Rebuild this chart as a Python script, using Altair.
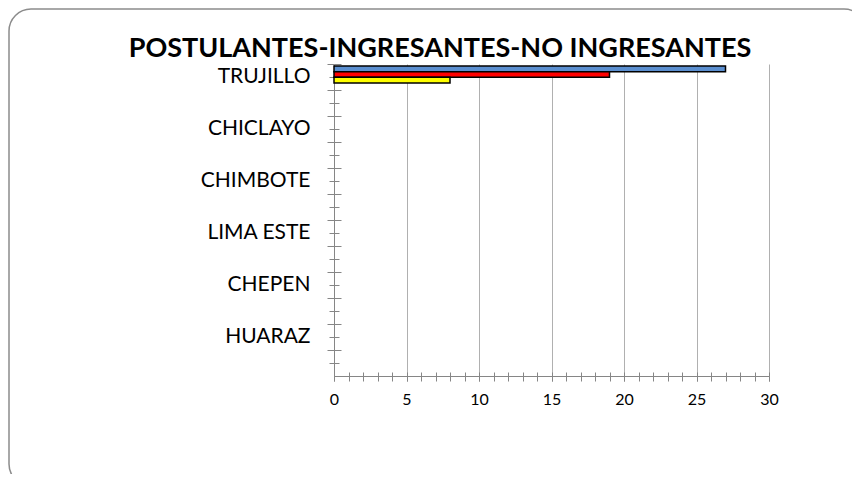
import altair as alt
import pandas as pd

cities = ["TRUJILLO", "CHICLAYO", "CHIMBOTE", "LIMA ESTE", "CHEPEN", "HUARAZ"]
series = ["POSTULANTES", "INGRESANTES", "NO INGRESANTES"]
postulantes = [27, 0, 0, 0, 0, 0]
ingresantes = [19, 0, 0, 0, 0, 0]
no_ingresantes = [8, 0, 0, 0, 0, 0]
colors = ["#5B8FD0", "#FF0000", "#FFFF00"]
x_major = [0, 5, 10, 15, 20, 25, 30]
x_minor = list(range(0, 31))
title_text = "POSTULANTES-INGRESANTES-NO INGRESANTES"

# each city occupies a labelled slot followed by an unlabelled one
slots = []
for i, c in enumerate(cities):
    slots += [c, f"_{i}"]

rows = []
for s, vals in zip(series, [postulantes, ingresantes, no_ingresantes]):
    for c, v in zip(cities, vals):
        rows.append({"ciudad": c, "serie": s, "valor": v})
df = pd.DataFrame(rows)

W, H = 435, 312
FONT = "Lato"
AX = "#868686"

xs = alt.Scale(domain=[0, 30], nice=False, zero=True)
ys = alt.Scale(domain=slots, paddingInner=0, paddingOuter=0)

base = alt.Chart(df)

bars = base.transform_filter("datum.valor > 0").mark_bar(
    stroke="black", strokeWidth=1.5
).encode(
    x=alt.X("valor:Q", scale=xs, axis=alt.Axis(
        orient="bottom", values=x_major, grid=True, gridColor="#B0B0B0",
        tickSize=5, tickColor=AX, domainColor=AX, labelFont=FONT,
        labelFontSize=16, labelColor="black", labelPadding=10,
        labelFlush=False, title=None)),
    y=alt.Y("ciudad:N", scale=ys, axis=alt.Axis(
        orient="left", bandPosition=0.5, tickSize=5, tickColor=AX,
        domainColor=AX, labelFont=FONT, labelFontSize=21,
        labelColor="black", labelPadding=19, title=None, grid=False,
        labelExpr="indexof(datum.label, '_') == 0 ? '' : datum.label")),
    yOffset=alt.YOffset("serie:N", sort=series, scale=alt.Scale(
        domain=series, range=[2, 19], paddingInner=0, paddingOuter=0)),
    color=alt.Color("serie:N", scale=alt.Scale(domain=series, range=colors),
                    legend=None),
)

ticks2 = base.mark_bar(opacity=0).encode(
    x=alt.X("valor:Q", scale=xs, axis=alt.Axis(
        orient="bottom", values=x_minor, labels=False, tickSize=5,
        tickColor=AX, domain=False, grid=False, title=None)),
    y=alt.Y("ciudad:N", scale=ys, axis=alt.Axis(
        orient="left", bandPosition=0, tickSize=7, tickColor=AX,
        labels=False, domain=False, grid=False, title=None)),
)

ticks3 = base.mark_bar(opacity=0).encode(
    x=alt.X("valor:Q", scale=xs, axis=alt.Axis(
        orient="top", offset=-H, values=x_minor, labels=False, tickSize=4,
        tickColor=AX, domain=False, grid=False, title=None)),
    y=alt.Y("ciudad:N", scale=ys, axis=alt.Axis(
        orient="right", offset=-W, bandPosition=0.5, tickSize=5,
        tickColor=AX, labels=False, domain=False, grid=False, title=None)),
)

ticks4 = base.mark_bar(opacity=0).encode(
    x=alt.X("valor:Q", scale=xs, axis=None),
    y=alt.Y("ciudad:N", scale=ys, axis=alt.Axis(
        orient="right", offset=-W, bandPosition=0, tickSize=7,
        tickColor=AX, labels=False, domain=False, grid=False, title=None)),
)

frame = alt.Chart(alt.Data(values=[{}])).mark_rect(
    fill="transparent", stroke="#8C8C8C", strokeWidth=1.5, cornerRadius=22
).encode(
    x=alt.value(-325), x2=alt.value(W + 97),
    y=alt.value(-55), y2=alt.value(H + 110),
)

title = alt.Chart(alt.Data(values=[{"t": title_text}])).mark_text(
    font=FONT, fontSize=27, fontWeight="bold", color="black",
    align="center", baseline="alphabetic"
).encode(text="t:N", x=alt.value(106), y=alt.value(-7))

chart = alt.layer(frame, ticks2, ticks3, ticks4, bars, title).resolve_axis(
    x="independent", y="independent"
).properties(
    width=W, height=H,
    background="white",
    autosize=alt.AutoSizeParams(type="none"),
    padding={"left": 326, "top": 56, "right": 83, "bottom": 98},
).configure_view(stroke="transparent")

chart.save("out.html", embed_options={"renderer": "svg", "actions": False})
